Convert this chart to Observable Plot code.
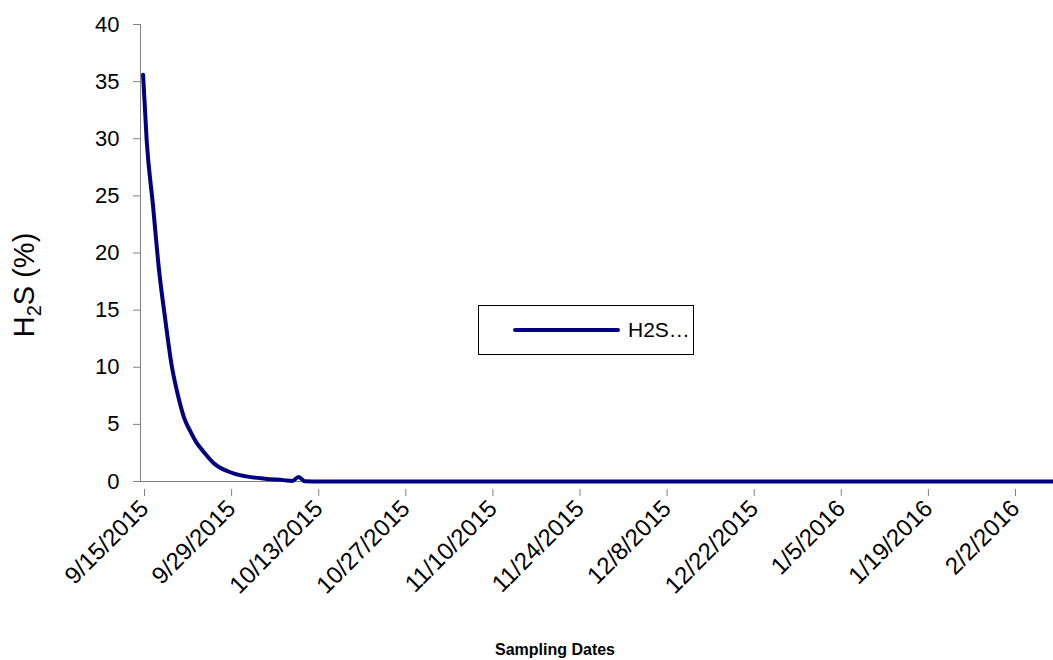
<!DOCTYPE html>
<html>
<head>
<meta charset="utf-8">
<script src="https://cdn.jsdelivr.net/npm/d3@7"></script>
<script src="https://cdn.jsdelivr.net/npm/@observablehq/plot@0.6"></script>
<style>
  body { margin: 0; background: #fff; }
  #chart svg { display: block; }
</style>
</head>
<body>
<div id="chart"></div>
<script>
// Sampling dates (UTC) and H2S (%) values
const dates = [
  "2015-09-15T10:00","2015-09-16T00:00","2015-09-17T00:00","2015-09-18T00:00","2015-09-19T00:00",
  "2015-09-20T00:00","2015-09-21T00:00","2015-09-22T00:00","2015-09-23T00:00","2015-09-24T00:00",
  "2015-09-25T00:00","2015-09-27T00:00","2015-09-29T00:00","2015-10-02T00:00","2015-10-05T00:00",
  "2015-10-08T00:00","2015-10-09T10:00","2015-10-10T10:00","2015-10-11T10:00","2015-10-14T00:00",
  "2015-10-21T00:00","2015-10-28T00:00","2015-11-04T00:00","2015-11-11T00:00","2015-11-18T00:00",
  "2015-11-25T00:00","2015-12-02T00:00","2015-12-09T00:00","2015-12-16T00:00","2015-12-23T00:00",
  "2015-12-30T00:00","2016-01-06T00:00","2016-01-13T00:00","2016-01-20T00:00","2016-01-27T00:00",
  "2016-02-03T00:00","2016-02-10T00:00"
];
const h2s = [
  35.6, 29.8, 24.2, 18.4, 14.1,
  10.2, 7.6, 5.6, 4.4, 3.4,
  2.7, 1.5, 0.9, 0.45, 0.25,
  0.12, 0.05, 0.4, 0.02, 0.0,
  0.0, 0.0, 0.0, 0.0, 0.0,
  0.0, 0.0, 0.0, 0.0, 0.0,
  0.0, 0.0, 0.0, 0.0, 0.0,
  0.0, 0.0
];
const xTickLabels = ["9/15/2015","9/29/2015","10/13/2015","10/27/2015","11/10/2015",
  "11/24/2015","12/8/2015","12/22/2015","1/5/2016","1/19/2016","2/2/2016"];
const yTicks = [0, 5, 10, 15, 20, 25, 30, 35, 40];
const seriesName = "H2S…";
const xDomain = ["2015-09-15T00:00", "2016-02-08T18:00"];

const toDate = s => new Date(s + "Z");
const parseMDY = s => { const [m, d, y] = s.split("/").map(Number); return new Date(Date.UTC(y, m - 1, d)); };
const data = dates.map((d, i) => ({date: toDate(d), value: h2s[i]}));
const fmt = d3.utcFormat("%-m/%-d/%Y");
const FONT = "'Liberation Sans', Arial, sans-serif";

const W = 1053, H = 660;
const plot = Plot.plot({
  width: W, height: H,
  marginLeft: 140, marginRight: 0, marginTop: 24, marginBottom: 179,
  style: {fontFamily: FONT, background: "#fff"},
  x: {type: "utc", domain: xDomain.map(toDate)},
  y: {domain: [0, 40]},
  marks: [
    Plot.axisY({ticks: yTicks, tickSize: 7, tickPadding: 14, fontSize: 22, label: null, stroke: "#808080", color: "#000"}),
    Plot.axisX({ticks: xTickLabels.map(parseMDY), tickFormat: fmt, tickSize: 7, tickRotate: -45,
      tickPadding: 8, fontSize: 24, label: null, stroke: "#808080", color: "#000", dy: 8, dx: 4}),
    Plot.ruleX([toDate(xDomain[0])], {stroke: "#808080", strokeWidth: 1}),
    Plot.ruleY([0], {stroke: "#808080", strokeWidth: 1}),
    Plot.line(data, {x: "date", y: "value", stroke: "#000080", strokeWidth: 4,
      curve: "monotone-x", strokeLinecap: "round", strokeLinejoin: "round"}),
    Plot.text(["Sampling Dates"], {frameAnchor: "bottom", dy: 173, fontSize: 16, fontWeight: "bold",
      fill: "#000", text: d => d, dx: -42})
  ]
});

const svg = d3.select(plot);
// Y axis title with subscript
const yt = svg.append("text")
  .attr("transform", "translate(34,285) rotate(-90)")
  .attr("text-anchor", "middle")
  .attr("font-family", FONT)
  .attr("font-size", 29)
  .attr("fill", "#000");
yt.append("tspan").text("H");
yt.append("tspan").attr("font-size", 20).attr("dy", 7).text("2");
yt.append("tspan").attr("dy", -7).text("S (%)");

// Legend box
const lg = svg.append("g");
lg.append("rect").attr("x", 478.5).attr("y", 305.5).attr("width", 215).attr("height", 49)
  .attr("fill", "#fff").attr("stroke", "#000").attr("stroke-width", 1);
lg.append("line").attr("x1", 515).attr("x2", 618).attr("y1", 330).attr("y2", 330)
  .attr("stroke", "#000080").attr("stroke-width", 4).attr("stroke-linecap", "round");
lg.append("text").attr("x", 628).attr("y", 337).attr("text-anchor", "start")
  .attr("font-family", FONT)
  .attr("font-size", 21).attr("fill", "#000").text(seriesName);

document.getElementById("chart").appendChild(plot);
</script>
</body>
</html>
